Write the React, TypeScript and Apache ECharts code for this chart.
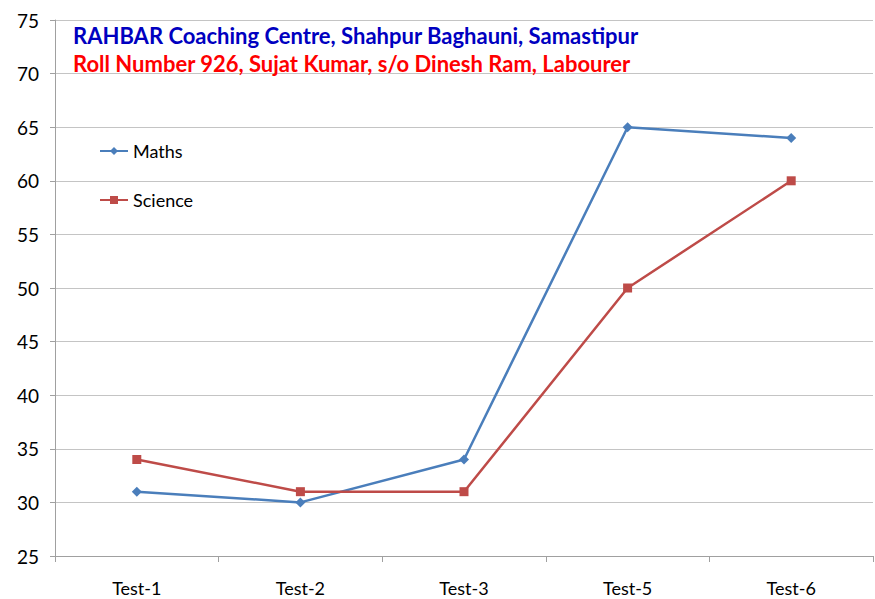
import React, { useEffect, useRef } from "react";
import * as echarts from "echarts";

const categories = ["Test-1", "Test-2", "Test-3", "Test-5", "Test-6"];
const maths = [31, 30, 34, 65, 64];
const science = [34, 31, 31, 50, 60];
const titleLine1 = "RAHBAR Coaching Centre, Shahpur Baghauni, Samastipur";
const titleLine2 = "Roll Number 926, Sujat Kumar, s/o Dinesh Ram, Labourer";

const FONT = "Lato, 'Open Sans', sans-serif";

export default function App() {
  const ref = useRef<HTMLDivElement>(null);
  useEffect(() => {
    if (!ref.current) return;
    const chart = echarts.init(ref.current, undefined, { renderer: "svg" });
    chart.setOption({
      animation: false,
      backgroundColor: "#ffffff",
      textStyle: { fontFamily: FONT },
      title: [
        {
          text: titleLine1,
          left: 68,
          top: 19,
          textStyle: { color: "#0000c0", fontSize: 22, fontWeight: "bold", fontFamily: FONT },
        },
        {
          text: titleLine2,
          left: 68,
          top: 47,
          textStyle: { color: "#ff0000", fontSize: 22, fontWeight: "bold", fontFamily: FONT },
        },
      ],
      legend: {
        orient: "vertical",
        left: 94,
        top: 137,
        itemGap: 31,
        itemWidth: 28,
        itemHeight: 10,
        textStyle: { fontSize: 18, color: "#000", fontFamily: FONT },
        data: ["Maths", "Science"],
      },
      grid: { left: 55, right: 2, top: 20, bottom: 43, containLabel: false },
      xAxis: {
        type: "category",
        data: categories,
        boundaryGap: true,
        axisLine: { lineStyle: { color: "#a0a0a0" } },
        axisTick: { show: true, length: 6, lineStyle: { color: "#a0a0a0" } },
        axisLabel: { color: "#000", fontSize: 18, margin: 23, fontFamily: FONT },
      },
      yAxis: {
        type: "value",
        min: 25,
        max: 75,
        interval: 5,
        axisLine: { show: true, lineStyle: { color: "#a0a0a0" } },
        axisTick: { show: true, length: 5, lineStyle: { color: "#a0a0a0" } },
        axisLabel: { color: "#000", fontSize: 19, margin: 16, fontFamily: FONT },
        splitLine: { lineStyle: { color: "#c4c4c4", width: 1 } },
      },
      series: [
        {
          name: "Maths",
          type: "line",
          data: maths,
          symbol: "diamond",
          symbolSize: 10,
          color: "#4a7ebb",
          lineStyle: { width: 2.5, color: "#4a7ebb" },
          itemStyle: { color: "#4a7ebb" },
        },
        {
          name: "Science",
          type: "line",
          data: science,
          symbol: "rect",
          symbolSize: 9,
          color: "#c0504d",
          lineStyle: { width: 2.5, color: "#be4b48" },
          itemStyle: { color: "#be4b48" },
        },
      ],
    });
    return () => chart.dispose();
  }, []);
  return (
    <div
      ref={ref}
      style={{ position: "fixed", left: 0, top: 0, width: 875, height: 599, background: "#fff" }}
    />
  );
}
